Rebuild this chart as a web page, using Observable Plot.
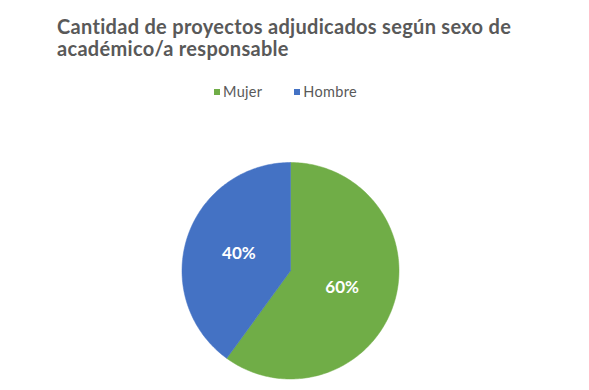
<!DOCTYPE html>
<html>
<head>
<meta charset="utf-8">
<script src="https://cdn.jsdelivr.net/npm/d3@7"></script>
<script src="https://cdn.jsdelivr.net/npm/@observablehq/plot@0.6"></script>
<style>
  html, body { margin: 0; padding: 0; background: #ffffff; }
  #wrap { position: relative; width: 589px; height: 390px; overflow: hidden; font-family: Lato, "Open Sans", sans-serif; }
  #title { position: absolute; left: 57px; top: 14.5px; font-size: 20px; font-weight: 700; letter-spacing: 0.3px; line-height: 22px; color: #595959; white-space: nowrap; }
  #legend { position: absolute; left: 214px; top: 84px; display: flex; align-items: center; gap: 32px; font-size: 14.5px; letter-spacing: 0.3px; line-height: 16px; color: #595959; }
  .item { display: flex; align-items: center; }
  .sw { width: 6px; height: 6px; margin-right: 3px; }
  #chart { position: absolute; left: 0; top: 0; }
</style>
</head>
<body>
<div id="wrap">
  <div id="chart"></div>
  <div id="title">Cantidad de proyectos adjudicados según sexo de<br>académico/a responsable</div>
  <div id="legend"></div>
</div>
<script>
const categories = ["Mujer", "Hombre"];
const values = [60, 40];
const labels = ["60%", "40%"];
const colors = ["#70AD47", "#4472C4"];

// legend
const legend = document.getElementById("legend");
categories.forEach((c, i) => {
  const it = document.createElement("div");
  it.className = "item";
  const sw = document.createElement("span");
  sw.className = "sw";
  sw.style.background = colors[i];
  const tx = document.createElement("span");
  tx.textContent = c;
  it.appendChild(sw); it.appendChild(tx);
  legend.appendChild(it);
});

// pie geometry from values
const arcs = d3.pie().sort(null).startAngle(0).endAngle(2 * Math.PI)(values);
const slicePts = [];
arcs.forEach((a, i) => {
  slicePts.push({cat: categories[i], px: 0, py: 0});
  const n = Math.max(2, Math.ceil((a.endAngle - a.startAngle) / (Math.PI / 180)));
  for (let k = 0; k <= n; k++) {
    const t = a.startAngle + (a.endAngle - a.startAngle) * k / n;
    slicePts.push({cat: categories[i], px: Math.sin(t), py: Math.cos(t)});
  }
  slicePts.push({cat: categories[i], px: 0, py: 0});
});
const labelPts = arcs.map((a, i) => {
  const m = (a.startAngle + a.endAngle) / 2;
  return {cat: categories[i], label: labels[i], px: 0.5 * Math.sin(m), py: 0.5 * Math.cos(m)};
});

const plot = Plot.plot({
  width: 589,
  height: 390,
  margin: 0,
  x: {domain: [-1, 1], range: [181.5, 398.5], axis: null},
  y: {domain: [-1, 1], range: [378.5, 162], axis: null},
  color: {domain: categories, range: colors},
  style: {background: "transparent"},
  marks: [
    Plot.line(slicePts, {x: "px", y: "py", z: "cat", fill: "cat", stroke: "cat", strokeWidth: 0.5, curve: "linear"}),
    Plot.text(labelPts, {x: "px", y: "py", text: "label", fill: "white", fontSize: 17, fontWeight: 700, fontFamily: "Lato, sans-serif"})
  ]
});
document.getElementById("chart").appendChild(plot);
</script>
</body>
</html>
